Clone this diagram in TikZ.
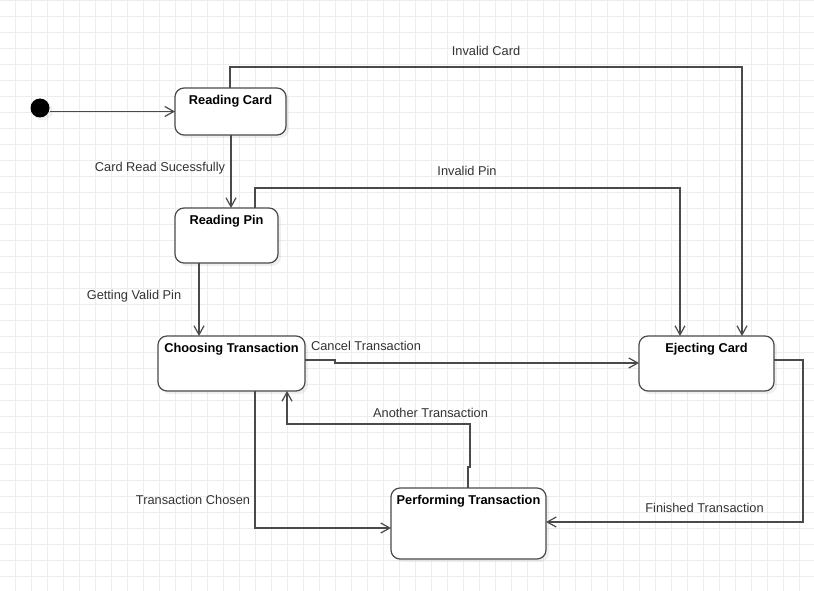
\documentclass[tikz,border=0pt]{standalone}
\usepackage{fontspec}
\setmainfont{Liberation Sans}
\usetikzlibrary{arrows.meta,shadows}
\definecolor{gridc}{HTML}{EDEDED}
\definecolor{linec}{HTML}{4A4A4A}
\definecolor{txtc}{HTML}{333333}
\begin{document}
\begin{tikzpicture}[x=1pt,y=-1pt,
  state/.style={draw=linec, line width=1.2pt, fill=white, rounded corners=9pt, anchor=north west,
    inner sep=0pt, outer sep=0pt,
    drop shadow={opacity=0.12, shadow xshift=3pt, shadow yshift=-3pt}},
  tr/.style={draw=linec, line width=1.2pt, -{Straight Barb[length=9pt,width=10pt,line width=1.2pt]}},
  lbl/.style={font=\fontsize{12.8}{15}\selectfont, text=txtc, inner sep=0pt},
  stitle/.style={font=\fontsize{12.8}{15}\selectfont\bfseries, text=black, anchor=center, inner sep=0pt, yshift=-13.5pt}]
\useasboundingbox (0,0) rectangle (814,591);
\fill[white] (0,0) rectangle (814,591);
\begin{scope}
\clip (0,0) rectangle (814,591);
\draw[gridc, line width=0.5pt, xshift=-0.5pt] (0,0) grid[step=16pt] (840,608);
\end{scope}
% states
\node[circle, fill=black, minimum size=19pt, inner sep=0pt,
  drop shadow={opacity=0.12, shadow xshift=3pt, shadow yshift=-3pt}] (init) at (40,108) {};
\node[state, minimum width=111pt, minimum height=47pt,
  label={[stitle]north:Reading Card}] (rc) at (175,88) {};
\node[state, minimum width=103pt, minimum height=55pt,
  label={[stitle]north:Reading Pin}] (rp) at (175,208) {};
\node[state, minimum width=147pt, minimum height=55pt,
  label={[stitle]north:Choosing Transaction}] (ct) at (158,336) {};
\node[state, minimum width=135pt, minimum height=55pt,
  label={[stitle]north:Ejecting Card}] (ej) at (639,336) {};
\node[state, minimum width=155pt, minimum height=71pt,
  label={[stitle]north:Performing Transaction}] (pt) at (391,488) {};
% connectors
\draw[tr] (init.east |- rc.west) -- (rc.west);
\draw[tr] (rc.north -| 230,0) |- (742,67) -- (ej.north -| 742,0);
\draw[tr] (rc.south -| 231,0) -- (rp.north -| 231,0);
\draw[tr] (rp.north -| 255,0) |- (680,188) -- (ej.north -| 680,0);
\draw[tr] (rp.south -| 199,0) -- (ct.north -| 199,0);
\draw[tr] (ct.east |- 0,360) -- (335,360) -- (335,363) -- (ej.west |- 0,363);
\draw[tr] (ct.south -| 255,0) |- (pt.west |- 0,528);
\draw[tr] (pt.north -| 468,0) -- (468,467) -- (470,467) |- (287,424) -- (ct.south -| 287,0);
\draw[tr] (ej.east |- 0,360) -| (803,522) -- (pt.east |- 0,522);
% labels
\node[lbl] (l1) at (486,51) {Invalid Card};
\node[lbl] (l2) at (160,168) {Card Read Sucessfully};
\node[lbl] (l3) at (467,171) {Invalid Pin};
\node[lbl] (l4) at (134,296) {Getting Valid Pin};
\node[lbl] (l5) at (366,346) {Cancel Transaction};
\node[lbl] (l6) at (430.5,413) {Another Transaction};
\node[lbl] (l7) at (193,500) {Transaction Chosen};
\node[lbl] (l8) at (704.5,508) {Finished Transaction};
\end{tikzpicture}
\end{document}
